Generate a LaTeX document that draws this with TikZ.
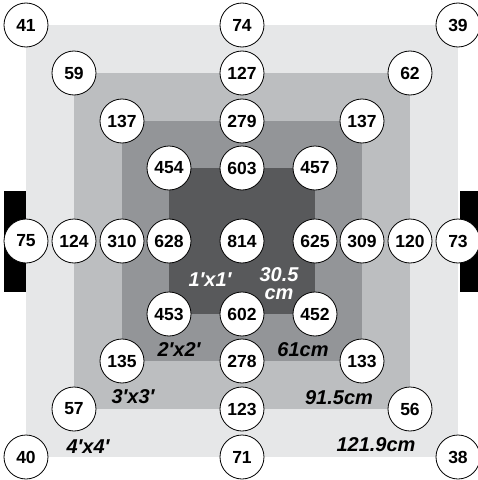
\documentclass[tikz,border=0pt]{standalone}
\usepackage{fontspec}
\setmainfont{Liberation Sans}

\begin{document}
\begin{tikzpicture}[
  x=1pt, y=1pt,
  reading/.style={
    circle, draw, fill=white, line width=0.8pt, minimum size=44pt,
    inner sep=0pt, font=\fontsize{17.5}{18}\selectfont\bfseries
  },
  sizelabel/.style={font=\fontsize{20}{17}\selectfont\bfseries\itshape, inner sep=0pt}
]

  % Grey levels of the four squares
  \definecolor{gFour}{HTML}{E6E7E8}   % 4'x4'
  \definecolor{gThree}{HTML}{BCBEC0}  % 3'x3'
  \definecolor{gTwo}{HTML}{939598}    % 2'x2'
  \definecolor{gOne}{HTML}{58595B}    % 1'x1'

  \useasboundingbox (-242,-239) rectangle (236,241);

  % --- SQUARES ---
  \fill[gFour]  (-216,-216) rectangle (216,216);
  \fill[gThree] (-168,-168) rectangle (168,168);
  \fill[gTwo]   (-120,-120) rectangle (120,120);
  \fill[gOne]   (-73,-73) rectangle (73,73);

  % Side bars
  \fill[black] (-238,-51) rectangle (-216,50);
  \fill[black] (218,-51) rectangle (240,50);

  % --- READINGS ---
  % Top row
  \node[reading] (r1w) at (-216,216) {41};
  \node[reading] (r1m) at (0,216) {74};
  \node[reading] (r1e) at (216,216) {39};

  \node[reading] (r2w) at (-168,168) {59};
  \node[reading] (r2m) at (0,168) {127};
  \node[reading] (r2e) at (168,168) {62};

  \node[reading] (r3w) at (-120,120) {137};
  \node[reading] (r3m) at (0,120) {279};
  \node[reading] (r3e) at (120,120) {137};

  \node[reading] (r4w) at (-73,73) {454};
  \node[reading] (r4m) at (0,73) {603};
  \node[reading] (r4e) at (73,73) {457};

  % Middle row
  \node[reading] (c4w) at (-216,0) {75};
  \node[reading] (c3w) at (-168,0) {124};
  \node[reading] (c2w) at (-120,0) {310};
  \node[reading] (c1w) at (-73,0) {628};
  \node[reading] (ctr) at (0,0) {814};
  \node[reading] (c1e) at (73,0) {625};
  \node[reading] (c2e) at (120,0) {309};
  \node[reading] (c3e) at (168,0) {120};
  \node[reading] (c4e) at (216,0) {73};

  % Bottom rows
  \node[reading] (r5w) at (-73,-73) {453};
  \node[reading] (r5m) at (0,-73) {602};
  \node[reading] (r5e) at (73,-73) {452};

  \node[reading] (r6w) at (-120,-120) {135};
  \node[reading] (r6m) at (0,-120) {278};
  \node[reading] (r6e) at (120,-120) {133};

  \node[reading] (r7w) at (-168,-168) {57};
  \node[reading] (r7m) at (0,-168) {123};
  \node[reading] (r7e) at (168,-168) {56};

  \node[reading] (r8w) at (-216,-216) {40};
  \node[reading] (r8m) at (0,-216) {71};
  \node[reading] (r8e) at (216,-216) {38};

  % --- SIZE LABELS ---
  \node[sizelabel, white] (ft1) at (-32,-39) {1′x1′};
  \node[sizelabel, white] (cm1a) at (37,-34) {30.5};
  \node[sizelabel, white] (cm1b) at (37,-53) {cm};
  \node[sizelabel] (ft2) at (-63,-109) {2′x2′};
  \node[sizelabel] (cm2) at (61,-109) {61cm};
  \node[sizelabel] (ft3) at (-109,-156) {3′x3′};
  \node[sizelabel] (cm3) at (97,-157) {91.5cm};
  \node[sizelabel] (ft4) at (-154,-206) {4′x4′};
  \node[sizelabel] (cm4) at (134,-204) {121.9cm};

\end{tikzpicture}
\end{document}
